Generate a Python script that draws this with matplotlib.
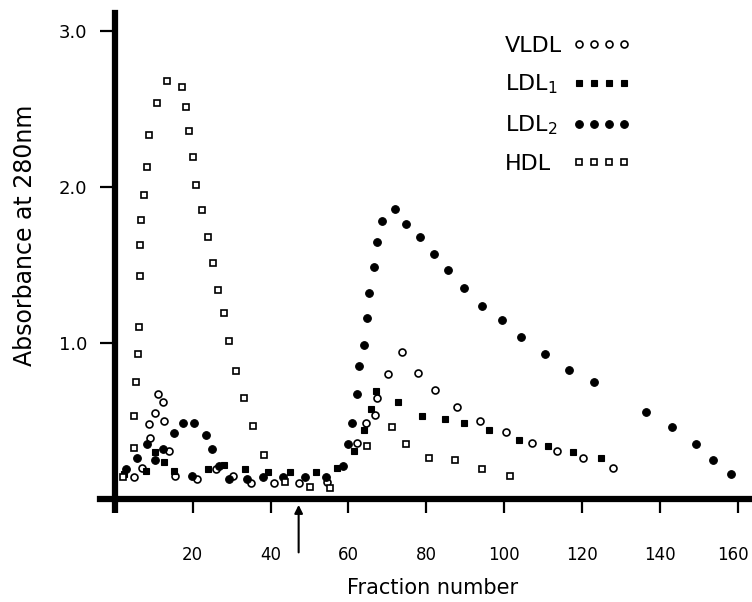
"""
Elution profile of lipoprotein fractions (absorbance at 280 nm vs fraction number).
"""

import matplotlib

matplotlib.use("Agg")
import matplotlib.pyplot as plt
from matplotlib.transforms import ScaledTranslation

# -- Data ----------------------------------------------------------------------
vldl_x = [5.0, 7.0, 8.9, 8.8, 10.3, 11.1, 12.4, 12.7, 14.0, 15.3, 21.2, 26.0, 30.4, 35.0,
          40.9, 47.4, 54.5, 62.2, 64.6, 66.7, 67.4, 70.1, 73.7, 77.8, 82.3, 87.8, 93.8,
          100.5, 107.3, 113.7, 120.2, 127.9]
vldl_y = [0.14, 0.20, 0.39, 0.48, 0.55, 0.67, 0.62, 0.50, 0.31, 0.15, 0.13, 0.19, 0.15, 0.10,
          0.10, 0.10, 0.11, 0.36, 0.49, 0.54, 0.65, 0.80, 0.94, 0.81, 0.70, 0.59, 0.50,
          0.43, 0.36, 0.31, 0.26, 0.20]

ldl1_x = [2.3, 8.1, 10.2, 12.5, 15.1, 24.0, 28.0, 33.4, 39.3, 45.0, 51.6, 57.0, 61.5, 64.1,
          65.7, 67.0, 72.8, 78.9, 84.7, 89.7, 96.2, 103.8, 111.3, 117.7, 124.9]
ldl1_y = [0.16, 0.18, 0.30, 0.24, 0.18, 0.19, 0.22, 0.19, 0.17, 0.17, 0.17, 0.20, 0.31, 0.44,
          0.58, 0.69, 0.62, 0.53, 0.51, 0.49, 0.44, 0.38, 0.34, 0.30, 0.26]

ldl2_x = [2.8, 5.6, 8.3, 10.3, 12.4, 15.2, 17.4, 19.9, 20.4, 23.3, 24.9, 26.7, 29.4, 33.9,
          38.0, 43.2, 48.8, 54.2, 58.7, 60.0, 60.8, 62.1, 62.7, 63.9, 64.8, 65.4, 66.5,
          67.4, 68.5, 71.9, 74.7, 78.5, 81.9, 85.7, 89.6, 94.3, 99.4, 104.4, 110.4,
          116.8, 123.1, 136.4, 143.2, 149.2, 153.6, 158.4]
ldl2_y = [0.19, 0.26, 0.35, 0.25, 0.32, 0.42, 0.49, 0.15, 0.49, 0.41, 0.32, 0.21, 0.13, 0.13,
          0.14, 0.14, 0.14, 0.14, 0.21, 0.35, 0.49, 0.67, 0.85, 0.99, 1.16, 1.32, 1.49,
          1.65, 1.78, 1.86, 1.76, 1.68, 1.57, 1.47, 1.35, 1.24, 1.15, 1.04, 0.93,
          0.83, 0.75, 0.56, 0.46, 0.35, 0.25, 0.16]

hdl_x = [2.0, 5.0, 5.0, 5.3, 5.9, 6.2, 6.4, 6.4, 6.8, 7.5, 8.2, 8.8, 10.8, 13.4, 17.2, 18.3,
         19.0, 20.0, 20.9, 22.3, 23.8, 25.2, 26.4, 27.9, 29.2, 31.0, 33.2, 35.5, 38.3,
         43.8, 50.1, 55.2, 64.8, 71.1, 74.8, 80.8, 87.4, 94.4, 101.4]
hdl_y = [0.14, 0.33, 0.53, 0.75, 0.93, 1.10, 1.43, 1.63, 1.79, 1.95, 2.13, 2.33, 2.54, 2.68,
         2.64, 2.51, 2.36, 2.19, 2.01, 1.85, 1.68, 1.51, 1.34, 1.19, 1.01, 0.82, 0.65,
         0.47, 0.28, 0.11, 0.08, 0.07, 0.34, 0.46, 0.35, 0.26, 0.25, 0.19, 0.15]

x_ticks = [0, 20, 40, 60, 80, 100, 120, 140, 160]
x_ticklabels = ["", "20", "40", "60", "80", "100", "120", "140", "160"]
y_ticks = [1.0, 2.0, 3.0]
y_ticklabels = ["1.0", "2.0", "3.0"]
arrow_fraction = 47.2


def main():
    plt.rcParams.update({"font.family": "DejaVu Sans", "mathtext.default": "regular"})
    fig = plt.figure(figsize=(7.52, 6.02), dpi=100)
    ax = fig.add_axes([100 / 752, 1 - 499 / 602, 650 / 752, 486 / 602])

    ax.plot(vldl_x, vldl_y, ls="none", marker="o", ms=5, mfc="white", mec="black", mew=1.2,
            label="VLDL")
    ax.plot(ldl1_x, ldl1_y, ls="none", marker="s", ms=4.5, mfc="black", mec="black", mew=0.8,
            label="LDL$_1$")
    ax.plot(ldl2_x, ldl2_y, ls="none", marker="o", ms=5.5, mfc="black", mec="black", mew=0.8,
            label="LDL$_2$")
    ax.plot(hdl_x, hdl_y, ls="none", marker="s", ms=4.5, mfc="white", mec="black", mew=1.2,
            label="HDL")

    ax.set_xlim(-3.85, 163.2)
    ax.set_ylim(0, 3.115)

    # Axes frame: thick left/bottom lines only
    for side in ["top", "right"]:
        ax.spines[side].set_visible(False)
    ax.spines["left"].set_position(("data", 0))
    ax.spines["left"].set_linewidth(4.5)
    ax.spines["bottom"].set_linewidth(4.5)

    ax.set_xticks(x_ticks)
    ax.set_xticklabels(x_ticklabels)
    ax.set_yticks(y_ticks)
    ax.set_yticklabels(y_ticklabels)
    ax.tick_params(axis="x", direction="out", length=10, width=1.6, pad=24, labelsize=12)
    ax.tick_params(axis="y", direction="out", length=11, width=1.6, pad=9, labelsize=13)
    ax.xaxis.get_major_ticks()[0].tick1line.set_markeredgewidth(4.5)

    # keep the last tick label inside the figure edge
    last = ax.get_xticklabels()[-1]
    last.set_transform(last.get_transform() + ScaledTranslation(-3 / 72, 0, fig.dpi_scale_trans))

    ax.set_xlabel("Fraction number", fontsize=15, va="center")
    ax.xaxis.set_label_coords(0.511, -0.183)
    ax.set_ylabel("Absorbance at 280nm", fontsize=17, va="center")
    ax.yaxis.set_label_coords(-0.115, 0.543)

    # Arrow under the axis marking the change of eluent
    ax.annotate("", xy=(arrow_fraction, -0.02), xytext=(arrow_fraction, -0.36),
                arrowprops=dict(arrowstyle="-|>", color="black", lw=1.5, mutation_scale=12),
                annotation_clip=False)

    leg = ax.legend(loc="upper left", bbox_to_anchor=(505 / 752, 1 - 36 / 602),
                    bbox_transform=fig.transFigure, frameon=False, fontsize=16,
                    numpoints=4, markerfirst=False, handlelength=2.63, handletextpad=0.46,
                    labelspacing=0.76, borderpad=0, borderaxespad=0)

    # left-align the legend labels while keeping the marker rows lined up
    fig.canvas.draw()
    renderer = fig.canvas.get_renderer()
    widths = [t.get_window_extent(renderer).width for t in leg.get_texts()]
    rows = leg._legend_handle_box.get_children()[0].get_children()
    for row, w in zip(rows, widths):
        row.sep += (max(widths) - w) * 72 / fig.dpi

    fig.savefig("out.png", dpi=100, facecolor="white")
    plt.close(fig)


if __name__ == "__main__":
    main()
